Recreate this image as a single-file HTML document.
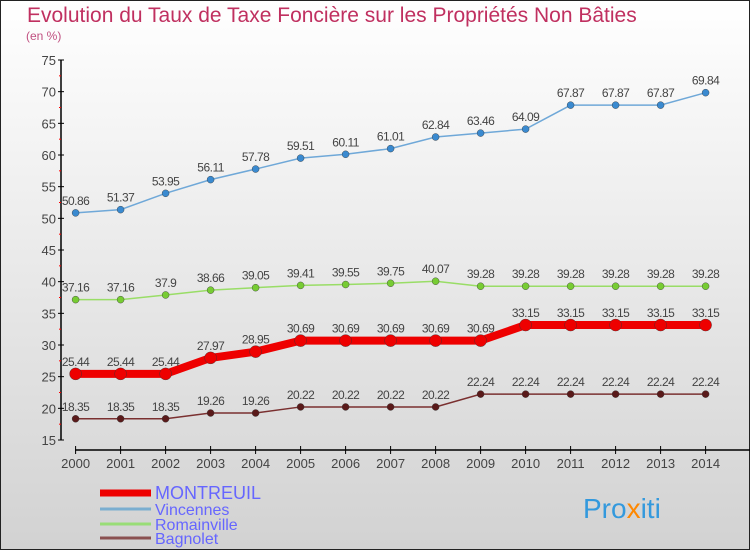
<!DOCTYPE html>
<html><head><meta charset="utf-8"><style>
body{margin:0;}
svg{display:block;font-family:"Liberation Sans",sans-serif;}
</style></head><body>
<svg id="c" width="750" height="550" viewBox="0 0 750 550">
<defs><linearGradient id="bg" x1="0" y1="0" x2="0" y2="1"><stop offset="0" stop-color="#ffffff"/><stop offset="1" stop-color="#d2d2d2"/></linearGradient></defs>
<rect x="0.5" y="0.5" width="749" height="549" fill="url(#bg)" stroke="#222"/>
<text x="27" y="22" font-size="21" fill="#c03060">Evolution du Taux de Taxe Foncière sur les Propriétés Non Bâties</text>
<text x="26" y="40" font-size="12" fill="#c05080">(en %)</text>
<g id="axes"></g>
<g id="series"></g>
<g id="legend"></g>
<text x="583" y="518" font-size="28" fill="#3399dd">Pro<tspan fill="#ff8800">x</tspan>iti</text>
</svg>
<script>
const years=[2000,2001,2002,2003,2004,2005,2006,2007,2008,2009,2010,2011,2012,2013,2014];
const yTicks=[15,20,25,30,35,40,45,50,55,60,65,70,75];
const montreuil=[25.44,25.44,25.44,27.97,28.95,30.69,30.69,30.69,30.69,30.69,33.15,33.15,33.15,33.15,33.15];
const vincennes=[50.86,51.37,53.95,56.11,57.78,59.51,60.11,61.01,62.84,63.46,64.09,67.87,67.87,67.87,69.84];
const romainville=[37.16,37.16,37.9,38.66,39.05,39.41,39.55,39.75,40.07,39.28,39.28,39.28,39.28,39.28,39.28];
const bagnolet=[18.35,18.35,18.35,19.26,19.26,20.22,20.22,20.22,20.22,22.24,22.24,22.24,22.24,22.24,22.24];
const NS="http://www.w3.org/2000/svg";
const X=i=>75.6+i*45.0;
const Y=v=>440-(v-15)*(380/60);
function mk(tag,attrs,parent){const e=document.createElementNS(NS,tag);for(const k in attrs)e.setAttribute(k,attrs[k]);parent.appendChild(e);return e;}
const ax=document.getElementById('axes');
let e=mk('line',{x1:61,y1:Y(75),x2:61,y2:Y(15),stroke:'#000','stroke-width':1.5},ax);


yTicks.forEach(t=>{
  let l=mk('line',{x1:58,y1:Y(t),x2:64,y2:Y(t),stroke:'#000'},ax);
  
  
  if(t<75){let m=mk('line',{x1:59,y1:Y(t+2.5),x2:61,y2:Y(t+2.5),stroke:'#f00'},ax);
  
  }
  let tx=mk('text',{x:56,y:Y(t)+5,'font-size':13,fill:'#444','text-anchor':'end'},ax);
  tx.textContent=t;
  
  
});
e=mk('line',{x1:75,y1:450,x2:750,y2:450,stroke:'#000','stroke-width':1.5},ax);


years.forEach((y,i)=>{
  let l=mk('line',{x1:X(i),y1:446,x2:X(i),y2:454,stroke:'#000'},ax);
  
  
  let tx=mk('text',{x:X(i),y:468,'font-size':13,fill:'#444','text-anchor':'middle'},ax);
  tx.textContent=y;
  
  
});
const sg=document.getElementById('series');
function series(name,data,color,w,r,dot){
  const g=mk('g',{},sg);
  
  
  let p=mk('polyline',{points:data.map((v,i)=>X(i)+','+Y(v)).join(' '),fill:'none',stroke:color,'stroke-width':w},g);
  
  
  data.forEach((v,i)=>{
    let c=mk('circle',{cx:X(i),cy:Y(v),r:r,fill:dot,stroke:'#333','stroke-width':0.4},g);
    
    
    let t=mk('text',{x:X(i),y:Y(v)-8,'font-size':12,fill:'#444','text-anchor':'middle','letter-spacing':'-0.5'},g);
    t.textContent=v;
    
    
  });
}
series('vincennes',vincennes,'#6fa8d8',1.5,3.5,'#3a8ad0');
series('romainville',romainville,'#99dd66',1.5,3.5,'#77cc33');
series('bagnolet',bagnolet,'#7a3030',1.5,3.5,'#5a1a1a');
series('montreuil',montreuil,'#ee0000',8,6,'#ee0000');
const lg=document.getElementById('legend');
const leg=[['MONTREUIL','#ee0000',7,18],['Vincennes','#7aaed0',3,16],['Romainville','#99dd77',3,16],['Bagnolet','#8a5050',3,16]];
const ly=[493,509,524,538];
leg.forEach((d,i)=>{
  let l=mk('line',{x1:100,y1:ly[i],x2:151,y2:ly[i],stroke:d[1],'stroke-width':d[2]},lg);
  
  
  let t=mk('text',{x:155,y:ly[i]+6,'font-size':d[3],fill:'#6666ff'},lg);
  t.textContent=d[0];
  
  
});
</script>
</body></html>
